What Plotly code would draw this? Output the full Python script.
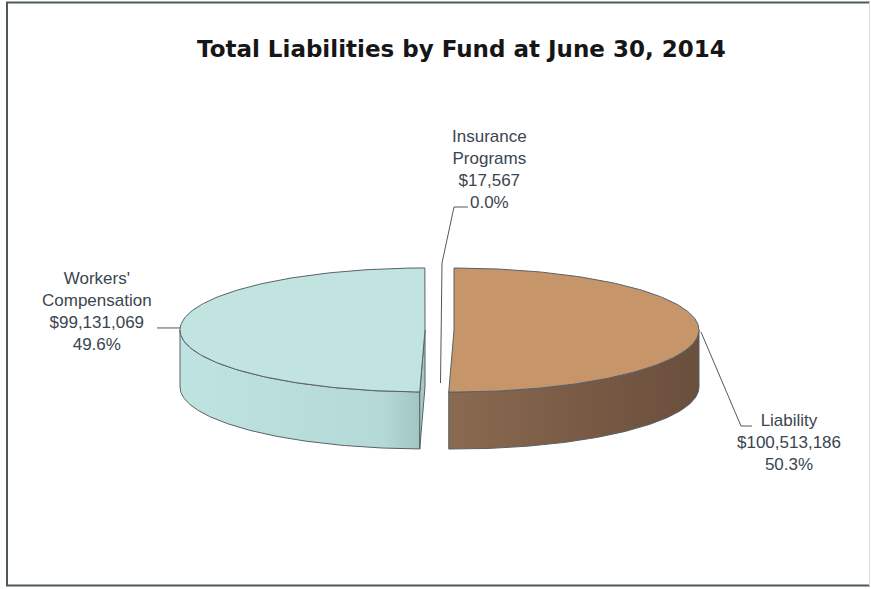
import numpy as np
import plotly.graph_objects as go

# ---- data -------------------------------------------------------------
categories = ["Liability", "Workers' Compensation", "Insurance Programs"]
amounts = [100513186, 99131069, 17567]
label_names = ["Liability", "Workers'<br>Compensation", "Insurance<br>Programs"]

# ---- styling ----------------------------------------------------------
top_colors = ["#c7956a", "#c1e4e1", "#d8d8d8"]
side_scales = [
    [[0, "#8a6a50"], [0.5, "#7a5b45"], [1, "#6a4f3d"]],
    [[0, "#bfe3e0"], [0.85, "#b4d9d6"], [1, "#a2c5c2"]],
    [[0, "#c8c8c8"], [1, "#b0b0b0"]],
]
cut_colors = ["#6e5340", "#a4c8c5", "#b0b0b0"]
edge_color = "#58616a"
text_color = "#3b4550"

W, H = 871, 589
CX, CY = 439.5, 330.0        # centre of the pie's top face
RA, RB = 245.0, 62.0         # ellipse semi-axes of the tilted disc
DEPTH = 57.0                 # thickness of the disc
EXPLODE = 14.5               # radial offset of every slice

# label blocks: (x, y) centres and leader-line elbows
label_pos = [(789, 442), (97, 311), (489, 169)]

total = float(sum(amounts))
fractions = [v / total for v in amounts]


def rim(theta, ox, oy, dz=0.0):
    t = np.radians(theta)
    return CX + ox + RA * np.sin(t), CY + oy - RB * np.cos(t) + dz


fig = go.Figure()
tops = []
start = 0.0
slices = []
for i, f in enumerate(fractions):
    t1, t2 = start, start + 360.0 * f
    start = t2
    mid = np.radians((t1 + t2) / 2)
    ox = EXPLODE * np.sin(mid)
    oy = -EXPLODE * (RB / RA) * np.cos(mid)
    slices.append((t1, t2, ox, oy))

    # visible outer wall (front half of the disc)
    lo, hi = max(t1, 90.0), min(t2, 270.0)
    if hi > lo:
        th = np.linspace(lo, hi, 120)
        xt, yt = rim(th, ox, oy)
        xb, yb = rim(th[::-1], ox, oy, DEPTH)
        fig.add_trace(go.Scatter(
            x=np.r_[xt, xb, xt[0]], y=np.r_[yt, yb, yt[0]],
            mode="lines", fill="toself",
            fillgradient=dict(type="horizontal", colorscale=side_scales[i]),
            line=dict(color=edge_color, width=1 if f > 0.01 else 0),
            hoverinfo="skip", showlegend=False))

    # radial cut faces that turn toward the viewer
    for ang, normal in ((t1, t1 - 90.0), (t2, t2 + 90.0)):
        if np.cos(np.radians(normal)) < -1e-6 and f > 0.01:
            ex, ey = rim(ang, ox, oy)
            cx0, cy0 = CX + ox, CY + oy
            fig.add_trace(go.Scatter(
                x=[cx0, ex, ex, cx0, cx0],
                y=[cy0, ey, ey + DEPTH, cy0 + DEPTH, cy0],
                mode="lines", fill="toself", fillcolor=cut_colors[i],
                line=dict(color=edge_color, width=1),
                hoverinfo="skip", showlegend=False))

    # top face
    th = np.linspace(t1, t2, max(3, int(360 * f)))
    xs, ys = rim(th, ox, oy)
    tops.append(go.Scatter(
        x=np.r_[CX + ox, xs, CX + ox], y=np.r_[CY + oy, ys, CY + oy],
        mode="lines", fill="toself", fillcolor=top_colors[i],
        line=dict(color=edge_color, width=1 if f > 0.01 else 0),
        name=categories[i], hoverinfo="name", showlegend=False))

for tr in tops:
    fig.add_trace(tr)

# ---- leader lines -----------------------------------------------------
lt = slices[0]
rx, ry = rim(90.0, lt[2], lt[3])
wk = slices[1]
wx, wy = rim(270.0, wk[2], wk[3])
leaders = [
    ([rx + 2, 741, 752], [ry + 2, 426, 426]),
    ([157, wx], [wy - 2, wy - 2]),
    ([468, 454, 442, 440.5], [207, 207, 263, 383]),
]
for lx, ly in leaders:
    fig.add_trace(go.Scatter(x=lx, y=ly, mode="lines",
                             line=dict(color="#4f5863", width=1),
                             hoverinfo="skip", showlegend=False))

# ---- labels -----------------------------------------------------------
for i, v in enumerate(amounts):
    txt = f"{label_names[i]}<br>${v:,}<br>{fractions[i] * 100:.1f}%"
    fig.add_annotation(x=label_pos[i][0], y=label_pos[i][1], text=txt,
                       showarrow=False, align="center",
                       xanchor="center", yanchor="middle",
                       font=dict(family="Arial, Liberation Sans", size=17,
                                 color=text_color))

fig.add_annotation(x=461, y=49, text="<b>Total Liabilities by Fund at June 30, 2014</b>",
                   showarrow=False, xanchor="center", yanchor="middle",
                   font=dict(family="DejaVu Sans", size=23, color="#161616"))

# ---- frame ------------------------------------------------------------
fig.add_shape(type="line", x0=6, x1=870, y0=2.5, y1=2.5,
              line=dict(color="#4e5a5a", width=2))
fig.add_shape(type="line", x0=6, x1=870, y0=585.5, y1=585.5,
              line=dict(color="#4e5a5a", width=2))
fig.add_shape(type="line", x0=7, x1=7, y0=2, y1=586,
              line=dict(color="#4e5a5a", width=2))
fig.add_shape(type="line", x0=869.5, x1=869.5, y0=2, y1=586,
              line=dict(color="#d6dcdc", width=1))

fig.update_xaxes(range=[0, W], visible=False, fixedrange=True)
fig.update_yaxes(range=[H, 0], visible=False, fixedrange=True)
fig.update_layout(width=W, height=H, autosize=False,
                  margin=dict(l=0, r=0, t=0, b=0),
                  paper_bgcolor="white", plot_bgcolor="white",
                  showlegend=False)

fig.write_html("out.html")
